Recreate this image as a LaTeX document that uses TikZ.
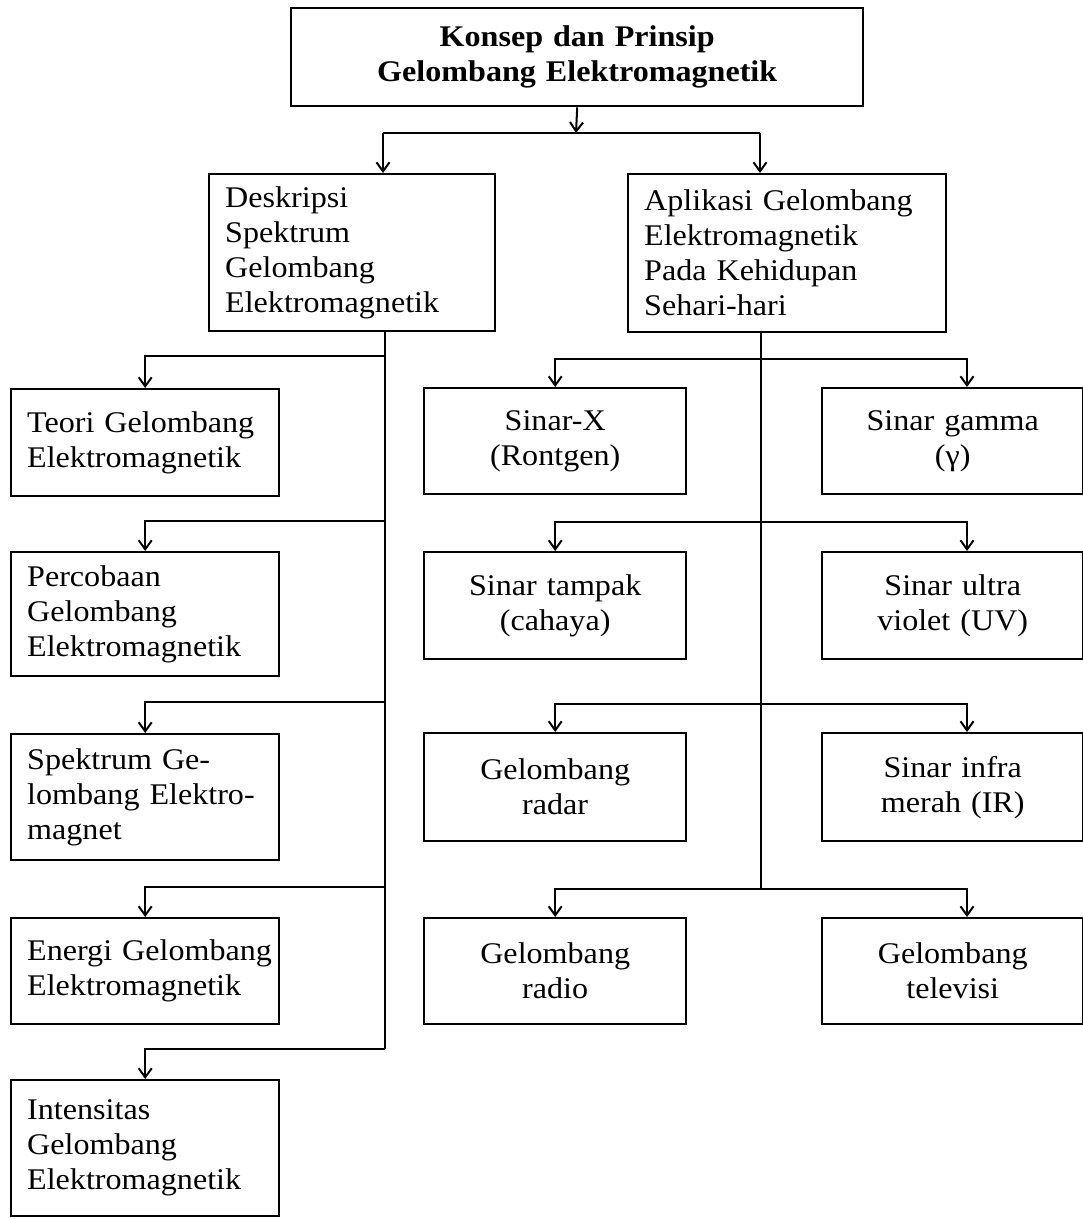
\documentclass[tikz,border=0pt]{standalone}
\usepackage{fontspec}
\setmainfont{Liberation Serif}[FakeStretch=1.07]
\usetikzlibrary{arrows.meta}
\begin{document}
\begin{tikzpicture}[x=1pt,y=-1pt,
  bx/.style={draw, line width=2.4pt, anchor=north west, inner xsep=16pt, inner ysep=0pt,
    font=\fontsize{30}{35}\selectfont},
  lbox/.style={bx, align=left},
  cbox/.style={bx, align=center},
  conn/.style={line width=2pt},
  arr/.style={conn, -{Straight Barb[length=9pt,width=13pt,line width=2pt]}}]
\useasboundingbox (0,0) rectangle (1083,1219);

% top
\node[cbox, text width=540pt, minimum height=98pt, font=\fontsize{30}{35}\selectfont\bfseries] (top) at (290,7)
  {Konsep dan Prinsip\\Gelombang Elektromagnetik};

% second level
\node[lbox, text width=254pt, minimum height=157pt] (desk) at (208,173)
  {Deskripsi\\Spektrum\\Gelombang\\Elektromagnetik};
\node[lbox, text width=286pt, minimum height=158pt] (apl) at (627,173)
  {\mbox{Aplikasi Gelombang}\\Elektromagnetik\\\mbox{Pada Kehidupan}\\Sehari-hari};

% left column
\node[lbox, text width=236pt, minimum height=107pt] (teori) at (10,388)
  {\mbox{Teori Gelombang}\\Elektromagnetik};
\node[lbox, text width=236pt, minimum height=124pt] (perc) at (10,551)
  {Percobaan\\Gelombang\\Elektromagnetik};
\node[lbox, text width=236pt, minimum height=126pt] (spek) at (10,733)
  {\mbox{Spektrum Ge-}\\\mbox{lombang Elektro-}\\magnet};
\node[lbox, text width=236pt, minimum height=106pt] (energi) at (10,917)
  {\mbox{Energi Gelombang}\\Elektromagnetik};
\node[lbox, text width=236pt, minimum height=136pt] (intens) at (10,1079)
  {Intensitas\\Gelombang\\Elektromagnetik};

% right columns
\node[cbox, text width=230pt, minimum height=106pt] (sx) at (423,387)
  {Sinar-X\\(Rontgen)};
\node[cbox, text width=229pt, minimum height=106pt] (sg) at (821,387)
  {\mbox{Sinar gamma}\\(γ)};
\node[cbox, text width=230pt, minimum height=107pt] (stampak) at (423,551)
  {\mbox{Sinar tampak}\\(cahaya)};
\node[cbox, text width=229pt, minimum height=107pt] (suv) at (821,551)
  {\mbox{Sinar ultra}\\\mbox{violet (UV)}};
\node[cbox, text width=230pt, minimum height=108pt] (radar) at (423,732)
  {Gelombang\\radar};
\node[cbox, text width=229pt, minimum height=108pt] (ir) at (821,732)
  {\mbox{Sinar infra}\\\mbox{merah (IR)}};
\node[cbox, text width=230pt, minimum height=106pt] (radio) at (423,917)
  {Gelombang\\radio};
\node[cbox, text width=229pt, minimum height=106pt] (tv) at (821,917)
  {Gelombang\\televisi};

% junction coordinates
\coordinate (J) at (576,133);
\coordinate (JL) at (383,133);
\coordinate (JR) at (760,133);
\coordinate (lx) at (385,0);
\coordinate (L1) at (385,356);
\coordinate (L2) at (385,521);
\coordinate (L3) at (385,702);
\coordinate (L4) at (385,887);
\coordinate (L5) at (385,1049);
\coordinate (rx) at (761,0);
\coordinate (ra) at (967,0);
\coordinate (R1) at (761,359);
\coordinate (R2) at (761,522);
\coordinate (R3) at (761,704);
\coordinate (R4) at (761,889);

% connectors
\draw[arr] (top.south) -- (J);
\draw[conn] (JL) -- (JR);
\draw[arr] (JL) -- (JL |- desk.north);
\draw[arr] (JR) -- (JR |- apl.north);

\draw[conn] (desk.south -| lx) -- (L5);
\draw[arr] (L1) -| (teori.north);
\draw[arr] (L2) -| (perc.north);
\draw[arr] (L3) -| (spek.north);
\draw[arr] (L4) -| (energi.north);
\draw[arr] (L5) -| (intens.north);

\draw[conn] (apl.south -| rx) -- (R4);
\draw[arr] (R1) -| (sx.north);
\draw[arr] (R1) -| (ra |- sg.north);
\draw[arr] (R2) -| (stampak.north);
\draw[arr] (R2) -| (ra |- suv.north);
\draw[arr] (R3) -| (radar.north);
\draw[arr] (R3) -| (ra |- ir.north);
\draw[arr] (R4) -| (radio.north);
\draw[arr] (R4) -| (ra |- tv.north);
\end{tikzpicture}
\end{document}
